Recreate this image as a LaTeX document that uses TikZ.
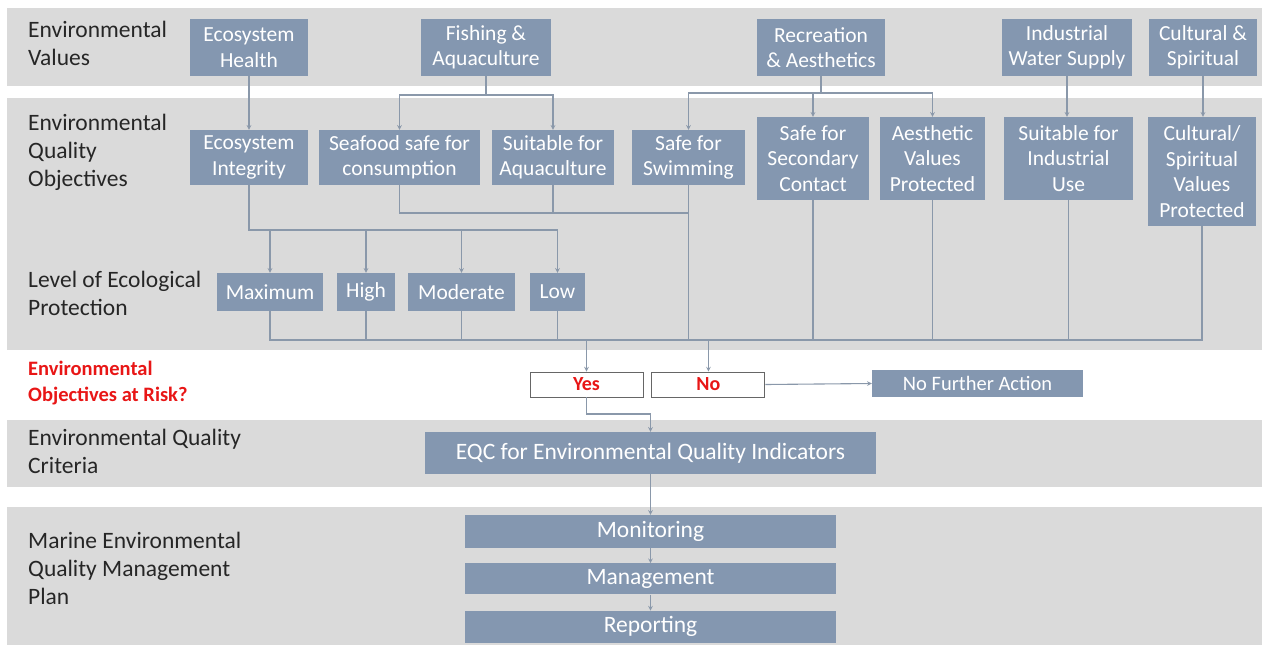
\documentclass[tikz,border=0pt]{standalone}
\usepackage{fontspec}
\setmainfont{Carlito}
\usepackage{xcolor}
\usepackage{tikz}
\usetikzlibrary{positioning}
\usetikzlibrary{calc}
\definecolor{slate}{RGB}{132,151,176}
\definecolor{bandgrey}{RGB}{218,218,218}
\definecolor{linkgrey}{RGB}{138,152,170}
\definecolor{riskred}{RGB}{232,22,22}

\begin{document}
\begin{tikzpicture}[x=1pt, y=-1pt, >= stealth,
        box/.style={rectangle, fill=slate, text=white, align=center, inner sep=0pt,
            font=\fontsize{21.5}{25.5}\selectfont},
        answer/.style={rectangle, draw=black!60, fill=white, line width=0.9pt, text=riskred,
            inner sep=0pt, minimum width=113pt, minimum height=25pt,
            font=\bfseries\fontsize{20}{22}\selectfont},
        rowlabel/.style={anchor=west, align=left, inner sep=0pt, text=black!85,
            font=\fontsize{23.5}{28}\selectfont},
        link/.style={draw=linkgrey, line width=1.1pt}]
            \useasboundingbox (0,0) rectangle (1265,645);
            % bands
            \fill[bandgrey] (7,8) rectangle (1262,86);
            \fill[bandgrey] (7,98) rectangle (1262,350);
            \fill[bandgrey] (7,420) rectangle (1262,487);
            \fill[bandgrey] (7,507) rectangle (1262,645);

            % row labels
            \node[rowlabel] (lvalues) at (28,43) {Environmental\\Values};
            \node[rowlabel] (lobjectives) at (28,152) {Environmental\\Quality\\Objectives};
            \node[rowlabel] (lprotection) at (28,293) {Level of Ecological\\Protection};
            \node[rowlabel, text=riskred, font=\bfseries\fontsize{20.5}{26}\selectfont] (lrisk) at (28,383) {Environmental\\Objectives at Risk?};
            \node[rowlabel] (lcriteria) at (28,451) {Environmental Quality\\Criteria};
            \node[rowlabel] (lplan) at (28,568) {Marine Environmental\\Quality Management\\Plan};

            % values
            \node[box, minimum width=118pt, minimum height=57pt] (health) at (249,47.5) {Ecosystem\\Health};
            \node[box, minimum width=130pt, minimum height=57pt] (fishing) at (486,47.5) {Fishing \&\\Aquaculture};
            \node[box, minimum width=128pt, minimum height=57pt] (recreation) at (821,47.5) {Recreation\\\& Aesthetics};
            \node[box, minimum width=130pt, minimum height=57pt] (industrial) at (1067,47.5) {Industrial\\Water Supply};
            \node[box, minimum width=108pt, minimum height=57pt] (cultural) at (1203,47.5) {Cultural \&\\Spiritual};

            % objectives
            \node[box, minimum width=118pt, minimum height=55pt] (integrity) at (249,157.5) {Ecosystem\\Integrity};
            \node[box, minimum width=161pt, minimum height=55pt] (seafood) at (399.5,157.5) {Seafood safe for\\consumption};
            \node[box, minimum width=122pt, minimum height=55pt] (aquasuit) at (553,157.5) {Suitable for\\Aquaculture};
            \node[box, minimum width=113pt, minimum height=55pt] (swim) at (688.5,157.5) {Safe for\\Swimming};
            \node[box, minimum width=112pt, minimum height=83pt] (secondary) at (813,158.5) {Safe for\\Secondary\\Contact};
            \node[box, minimum width=105pt, minimum height=83pt] (aesthetic) at (932.5,158.5) {Aesthetic\\Values\\Protected};
            \node[box, minimum width=129pt, minimum height=83pt] (induse) at (1068.5,158.5) {Suitable for\\Industrial\\Use};
            \node[box, minimum width=108pt, minimum height=109pt] (cultvalues) at (1202,171.5) {Cultural/\\Spiritual\\Values\\Protected};

            % protection levels
            \node[box, minimum width=106pt, minimum height=38pt] (maximum) at (270,292) {Maximum};
            \node[box, minimum width=58pt, minimum height=38pt] (high) at (366,292) {High};
            \node[box, minimum width=107pt, minimum height=38pt] (moderate) at (461.5,292) {Moderate};
            \node[box, minimum width=55pt, minimum height=38pt] (low) at (557.5,292) {Low};

            % risk
            \node[answer] (yes) at (586.5,384.5) {Yes};
            \node[answer, right=8pt of yes] (no) {No};
            \node[box, minimum width=211pt, minimum height=27pt, font=\fontsize{20.5}{24}\selectfont] (nofurther) at (977.5,383.5) {No Further Action};

            % criteria and plan
            \node[box, minimum width=451pt, minimum height=42pt, font=\fontsize{23.5}{26}\selectfont] (criteria) at (650.5,453) {EQC for Environmental Quality Indicators};
            \node[box, minimum width=371pt, minimum height=33pt, font=\fontsize{23.5}{26}\selectfont] (monitoring) at (650.5,531.5) {Monitoring};
            \node[box, minimum width=371pt, minimum height=31pt, font=\fontsize{23.5}{26}\selectfont, below=15pt of monitoring] (management) {Management};
            \node[box, minimum width=371pt, minimum height=32pt, font=\fontsize{23.5}{26}\selectfont, below=16pt of management] (reporting) {Reporting};

            % values to objectives
            \coordinate (fishfork) at (486,95);
            \coordinate (recfork) at (821,93);
            \draw[link,->] (health) -- (integrity);
            \draw[link] (fishing.south) -- (fishfork);
            \draw[link,->] (fishfork) -| (seafood.north);
            \draw[link,->] (fishfork) -| (aquasuit.north);
            \draw[link] (recreation.south) -- (recfork);
            \draw[link,->] (recfork) -| (swim.north);
            \draw[link,->] (recfork) -| (secondary.north);
            \draw[link,->] (recfork) -| (aesthetic.north);
            \draw[link,->] (industrial.south) -- (induse.north -| industrial.south);
            \draw[link,->] (cultural.south) -- (cultvalues.north -| cultural.south);

            % objectives to protection levels
            \coordinate (swimjoin) at (688.5,213);
            \coordinate (integfork) at (249,230);
            \draw[link] (seafood.south) |- (swimjoin);
            \draw[link] (aquasuit.south) -- (aquasuit.south |- swimjoin);
            \draw[link] (integrity.south) |- (low.north |- integfork);
            \draw[link,->] (maximum.north |- integfork) -- (maximum.north);
            \draw[link,->] (high.north |- integfork) -- (high.north);
            \draw[link,->] (moderate.north |- integfork) -- (moderate.north);
            \draw[link,->] (low.north |- integfork) -- (low.north);

            % everything down to the risk question
            \coordinate (collect) at (0,340);
            \draw[link] (maximum.south) |- (cultvalues.south |- collect) -- (cultvalues.south);
            \draw[link] (high.south) -- (high.south |- collect);
            \draw[link] (moderate.south) -- (moderate.south |- collect);
            \draw[link] (low.south) -- (low.south |- collect);
            \draw[link] (swim.south) -- (swim.south |- collect);
            \draw[link] (secondary.south) -- (secondary.south |- collect);
            \draw[link] (aesthetic.south) -- (aesthetic.south |- collect);
            \draw[link] (induse.south) -- (induse.south |- collect);
            \draw[link,->] (yes.north |- collect) -- (yes.north);
            \draw[link,->] (no.north |- collect) -- (no.north);

            % answers
            \coordinate (yesjoin) at (650.5,414);
            \draw[link,->] (no.east) -- (nofurther.west);
            \draw[link,->] (yes.south) |- (yesjoin) -- (criteria.north);
            \draw[link,->] (criteria) -- (monitoring);
            \draw[link,->] (monitoring) -- (management);
            \draw[link,->] (management) -- (reporting);
        \end{tikzpicture}
\end{document}
